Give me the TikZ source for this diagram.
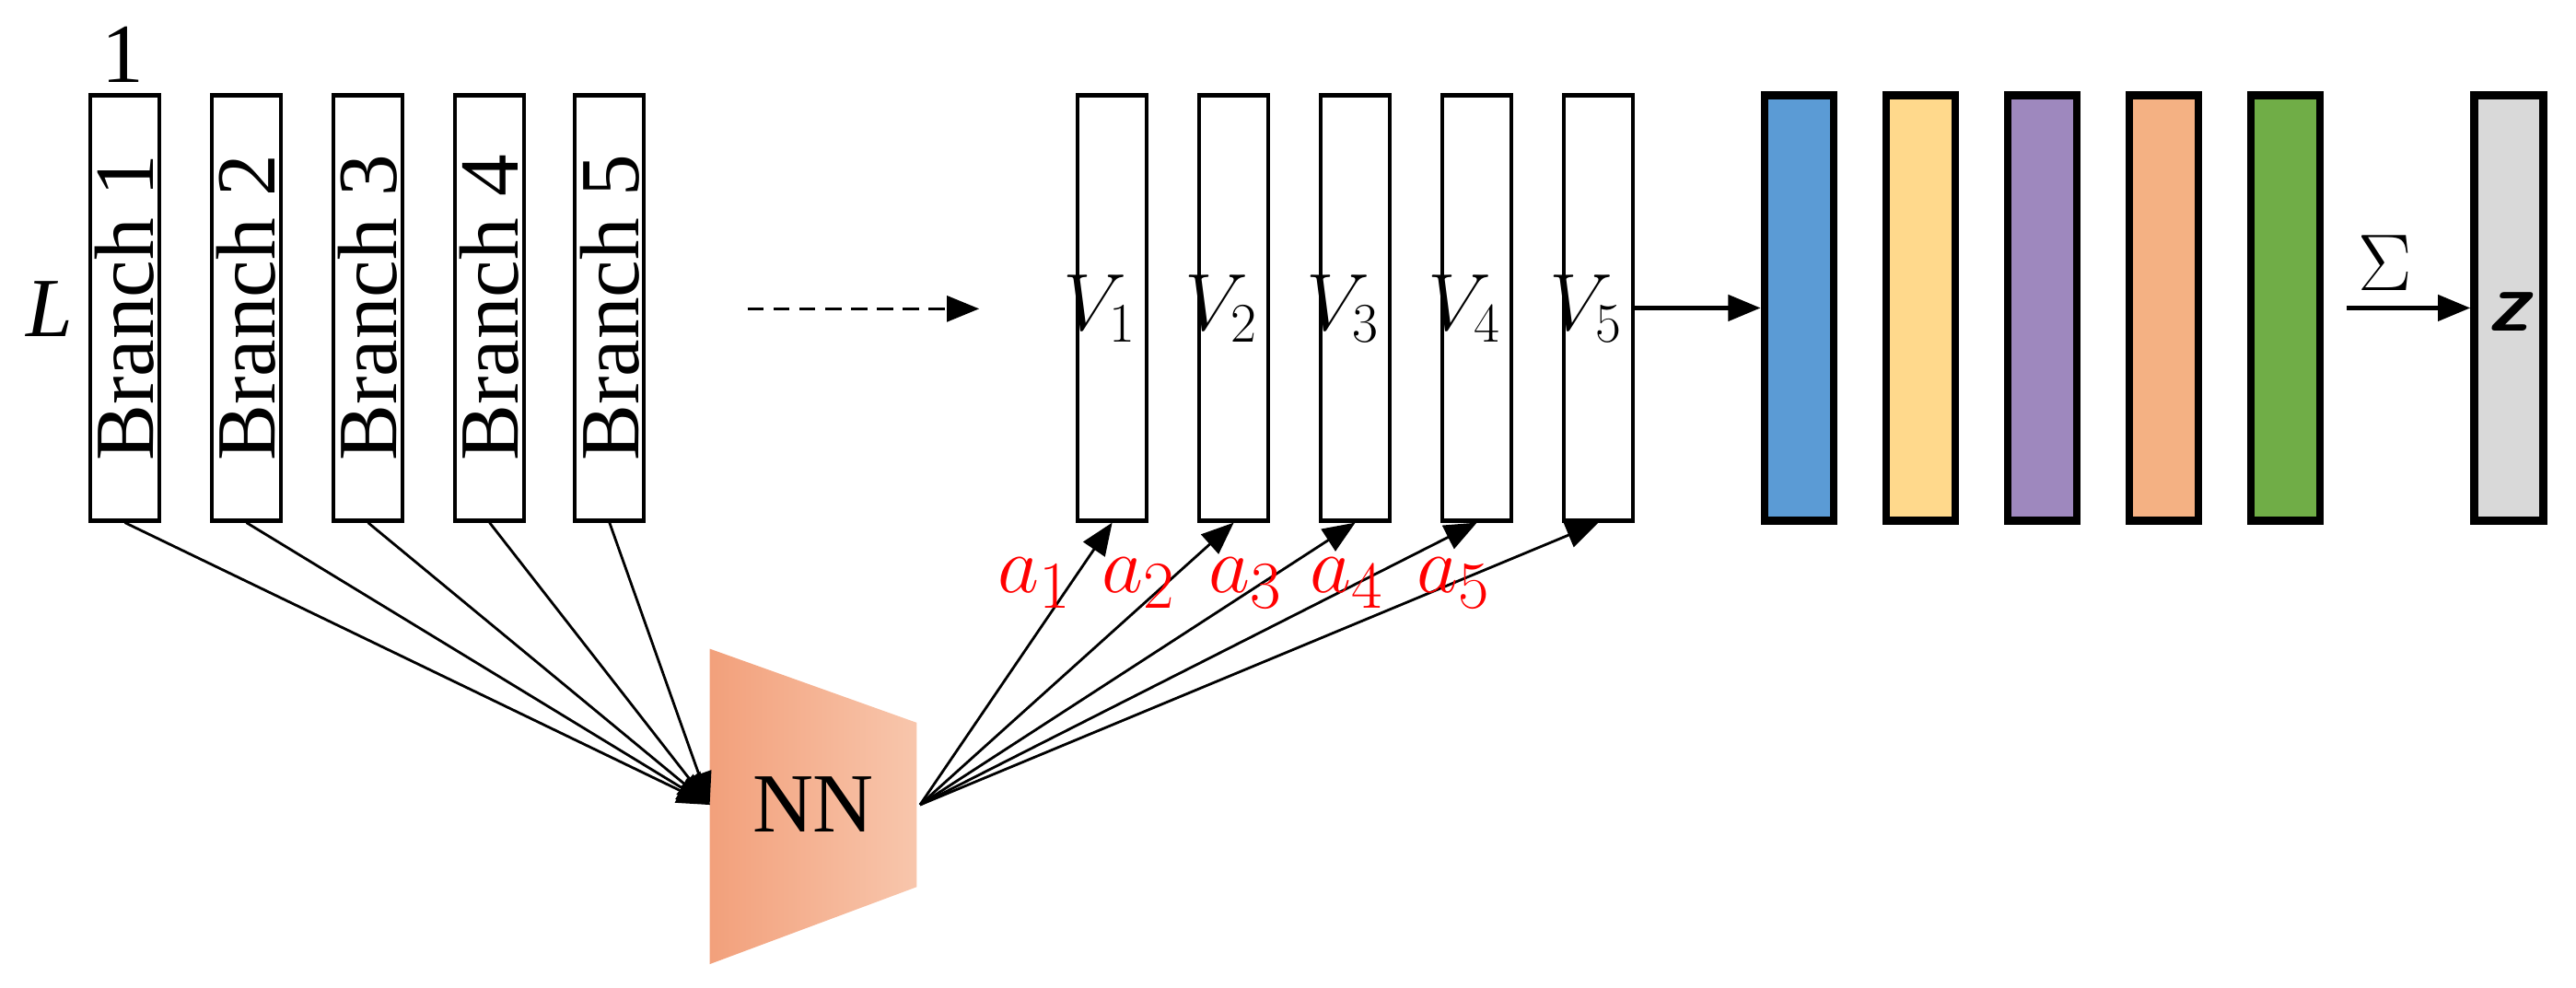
\documentclass[tikz,border=0pt]{standalone}
\usepackage{fontspec}
\setmainfont{Liberation Serif}
\usetikzlibrary{arrows.meta,fadings}
\begin{document}
\begin{tikzpicture}[x=0.01784cm,y=-0.01784cm,
  br/.style={draw,line width=1.2pt,fill=white,minimum width=0.75cm,minimum height=4.62cm,inner sep=0pt},
  cb/.style={draw,line width=2.4pt,minimum width=0.75cm,minimum height=4.62cm,inner sep=0pt},
  con/.style={line width=0.8pt,-{Triangle[length=10pt,width=8pt]}},
  lab/.style={font=\fontsize{26}{30}\selectfont},
  al/.style={text=red,font=\fontsize{30}{34}\selectfont}]
\useasboundingbox (0,0) rectangle (1568,601.5);
\node[lab] at (75,33) {1};
\node[lab] at (30,188) {\textit{L}};
\foreach \i/\x in {1/76,2/150,3/224,4/298,5/371}
  \node[br] (b\i) at (\x,187.5) {\rotatebox{90}{\fontsize{26}{30}\selectfont Branch \i}};
\foreach \i/\x in {1/677,2/751,3/825,4/899,5/973}
  \node[br] (v\i) at (\x,187.5) {};
\foreach \i/\x in {1/677,2/751,3/825,4/899,5/973}
  \node[lab,anchor=east] at (\x+22,188) {$V_{\i}$};
\definecolor{c1}{HTML}{5B9BD5}\definecolor{c2}{HTML}{FFD98C}\definecolor{c3}{HTML}{9E88BE}
\definecolor{c4}{HTML}{F4B183}\definecolor{c5}{HTML}{70AD47}\definecolor{c6}{HTML}{D9D9D9}
\foreach \i/\x in {1/1095,2/1169,3/1243,4/1317,5/1391}
  \node[cb,fill=c\i] (c\i) at (\x,187.5) {};
\node[cb,fill=c6] (z) at (1527,187.5) {};
\node[lab] at (1527,190) {\sffamily\bfseries\itshape z};
\coordinate (d1) at (455,188); \coordinate (d2) at (596,188);
\draw[con,dashed,dash pattern=on 5pt off 3pt] (d1) -- (d2);
\draw[con,line width=1.2pt] (v5.east) -- (c1.west);
\draw[con,line width=1.2pt] (c5.east)++(14,0) coordinate (s1) -- (z.west);
\node[lab] at (1452,160) {$\Sigma$};
\definecolor{nnA}{HTML}{F2A07B}\definecolor{nnB}{HTML}{F8C6AC}
\shade[left color=nnA,right color=nnB] (432,395) -- (558,440) -- (558,540) -- (432,587) -- cycle;
\node[lab,inner sep=0] (nn) at (495,490) {NN};
\coordinate (nin) at (432,490); \coordinate (nout) at (560,490);
\foreach \i in {1,...,5} \draw[con] (b\i.south) -- (nin);
\foreach \i in {1,...,5} \draw[con] (nout) -- (v\i.south);
\foreach \i/\x in {1/630,2/693,3/758,4/820,5/885}
  \node[al] at (\x,355) {$a_{\i}$};
\end{tikzpicture}
\end{document}
